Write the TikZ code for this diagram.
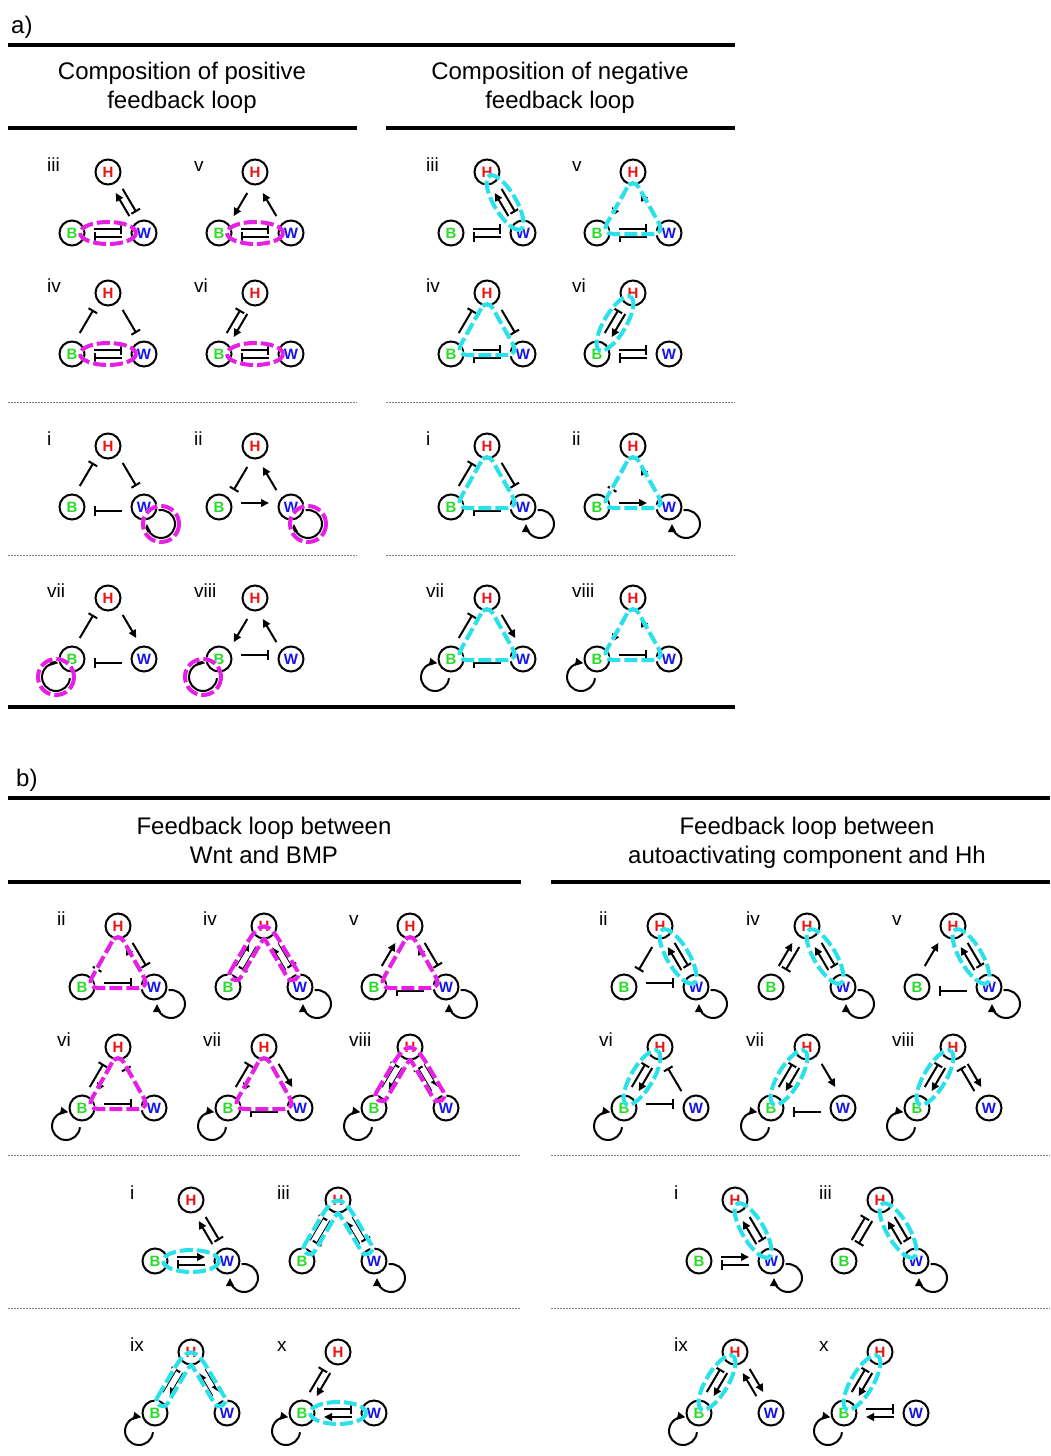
\documentclass[tikz,border=0pt]{standalone}
\usepackage{fontspec}
\setmainfont{Liberation Sans}
\usetikzlibrary{arrows.meta,calc}

\definecolor{hred}{RGB}{235,20,20}
\definecolor{bgreen}{RGB}{40,220,40}
\definecolor{wblue}{RGB}{20,20,235}
\definecolor{hlmag}{RGB}{230,30,230}
\definecolor{hlcyan}{RGB}{40,225,235}

\tikzset{
  nd/.style={circle,draw,line width=2pt,minimum size=25pt,inner sep=0pt,
    font=\fontsize{15}{15}\selectfont\bfseries},
  lbl/.style={anchor=base west,inner sep=0pt,font=\fontsize{19}{23}\selectfont},
  hdr/.style={anchor=base,inner sep=0pt,font=\fontsize{24}{29}\selectfont},
  edgeline/.style={line width=2pt,shorten <=22pt,shorten >=22pt},
  actl/.style={edgeline,-{Triangle[length=8pt,width=7.5pt]}},
  inhl/.style={edgeline,-{Bar[width=10pt]}},
  selfl/.style={line width=2pt,-{Triangle[length=8pt,width=7.5pt]}},
  hl/.style={preaction={draw=white,line width=4pt,solid},
    draw=#1,line width=4pt,dash pattern=on 13pt off 4pt},
  rule/.style={line width=3.2pt},
  dots/.style={line width=1pt,gray,dash pattern=on 1.5pt off 1.5pt},
}

% one three-node motif: prefix, numeral, H position
\newcommand\motif[4]{%
  \node[lbl] (#1n) at (#3-61,#4-1) {#2};
  \node[nd,text=hred] (#1H) at (#3,#4) {H};
  \node[nd,text=bgreen] (#1B) at (#3-36,#4+61) {B};
  \node[nd,text=wblue] (#1W) at (#3+36,#4+61) {W};
}
% edges run on the left-hand side of their direction
\newcommand\actE[3]{\draw[actl] ($(#1#2)!4pt!90:(#1#3)$) -- ($(#1#3)!4pt!-90:(#1#2)$);}
\newcommand\inhE[3]{\draw[inhl] ($(#1#2)!4pt!90:(#1#3)$) -- ($(#1#3)!4pt!-90:(#1#2)$);}
% self activation loops
\newcommand\wloop[1]{\draw[selfl] ($(#1W)+(17,17)+(-100:14)$) arc[start angle=-100,end angle=180,radius=14];}
\newcommand\bloop[1]{\draw[selfl] ($(#1B)+(-16,18)+(5:14)$) arc[start angle=5,end angle=280,radius=14];}
% dashed outlines marking a loop
\newcommand\hlwloop[2]{\draw[hl=#2] ($(#1W)+(17,17)$) circle[radius=18];}
\newcommand\hlbloop[2]{\draw[hl=#2] ($(#1B)+(-16,18)$) circle[radius=18];}
\newcommand\hlbw[2]{\draw[hl=#2] ($(#1B)!0.5!(#1W)$) ellipse[x radius=28,y radius=11];}
\newcommand\hlhw[2]{\coordinate (#1mw) at ($(#1H)!0.5!(#1W)$);
  \draw[hl=#2,rotate around={-59.45:(#1mw)}] (#1mw) ellipse[x radius=31,y radius=11];}
\newcommand\hlhb[2]{\coordinate (#1mb) at ($(#1H)!0.5!(#1B)$);
  \draw[hl=#2,rotate around={59.45:(#1mb)}] (#1mb) ellipse[x radius=31,y radius=11];}
\newcommand\hltri[2]{\draw[hl=#2,rounded corners=12pt] ($(#1H)+(0,5)$) -- ($(#1B)+(4,1)$) -- ($(#1W)+(-4,1)$) -- cycle;}
\newcommand\hllam[2]{\draw[hl=#2] ($(#1H)+(-33.6,45.2)$) -- ($(#1H)+(-17.9,18.5)$)
  .. controls ($(#1H)+(-3.7,-5.6)$) and ($(#1H)+(3.7,-5.6)$) .. ($(#1H)+(17.9,18.5)$)
  -- ($(#1H)+(33.6,45.2)$)
  .. controls ($(#1H)+(37.7,52.1)$) and ($(#1H)+(27.4,58.2)$) .. ($(#1H)+(23.3,51.3)$)
  -- ($(#1H)+(2.96,16.8)$)
  .. controls ($(#1H)+(0,11.8)$) .. ($(#1H)+(-2.96,16.8)$)
  -- ($(#1H)+(-23.3,51.3)$)
  .. controls ($(#1H)+(-27.4,58.2)$) and ($(#1H)+(-37.7,52.1)$) .. ($(#1H)+(-33.6,45.2)$) -- cycle;}

\begin{document}
\begin{tikzpicture}[x=1pt,y=-1pt]
\useasboundingbox (0,0) rectangle (1051,1456);

% ---------------- part a ----------------
\node[anchor=base west,inner sep=0pt,font=\fontsize{24}{29}\selectfont] (alab) at (11,33) {a)};
\draw[rule] (8,45) -- (735,45);
\node[hdr] (apt1) at (182,79.5) {Composition of positive};
\node[hdr] (apt2) at (182,108.5) {feedback loop};
\node[hdr] (ant1) at (560,79.5) {Composition of negative};
\node[hdr] (ant2) at (560,108.5) {feedback loop};
\draw[rule] (8,128) -- (357,128);
\draw[rule] (386,128) -- (735,128);
\draw[dots] (8,402) -- (357,402);
\draw[dots] (386,402) -- (735,402);
\draw[dots] (8,555) -- (357,555);
\draw[dots] (386,555) -- (735,555);
\draw[rule] (8,707) -- (735,707);

% positive feedback compositions
\motif{ap3}{iii}{108}{172}
\inhE{ap3}{B}{W}\inhE{ap3}{W}{B}\actE{ap3}{W}{H}\inhE{ap3}{H}{W}
\motif{ap5}{v}{255}{172}
\actE{ap5}{H}{B}\actE{ap5}{W}{H}\inhE{ap5}{B}{W}\inhE{ap5}{W}{B}
\motif{ap4}{iv}{108}{293}
\inhE{ap4}{B}{H}\inhE{ap4}{H}{W}\inhE{ap4}{B}{W}\inhE{ap4}{W}{B}
\motif{ap6}{vi}{255}{293}
\inhE{ap6}{B}{H}\actE{ap6}{H}{B}\inhE{ap6}{B}{W}\inhE{ap6}{W}{B}
\motif{ap1}{i}{108}{446}
\inhE{ap1}{B}{H}\inhE{ap1}{H}{W}\inhE{ap1}{W}{B}\wloop{ap1}
\motif{ap2}{ii}{255}{446}
\inhE{ap2}{H}{B}\actE{ap2}{B}{W}\actE{ap2}{W}{H}\wloop{ap2}
\motif{ap7}{vii}{108}{598}
\inhE{ap7}{B}{H}\actE{ap7}{H}{W}\inhE{ap7}{W}{B}\bloop{ap7}
\motif{ap8}{viii}{255}{598}
\actE{ap8}{H}{B}\inhE{ap8}{B}{W}\actE{ap8}{W}{H}\bloop{ap8}

\hlbw{ap3}{hlmag}\hlbw{ap5}{hlmag}\hlbw{ap4}{hlmag}\hlbw{ap6}{hlmag}
\hlwloop{ap1}{hlmag}\hlwloop{ap2}{hlmag}\hlbloop{ap7}{hlmag}\hlbloop{ap8}{hlmag}

% negative feedback compositions
\motif{an3}{iii}{487}{172}
\actE{an3}{W}{H}\inhE{an3}{H}{W}\inhE{an3}{B}{W}\inhE{an3}{W}{B}
\motif{an5}{v}{633}{172}
\actE{an5}{H}{B}\actE{an5}{W}{H}\inhE{an5}{B}{W}\inhE{an5}{W}{B}
\motif{an4}{iv}{487}{293}
\inhE{an4}{B}{H}\inhE{an4}{H}{W}\inhE{an4}{B}{W}\inhE{an4}{W}{B}
\motif{an6}{vi}{633}{293}
\inhE{an6}{B}{H}\actE{an6}{H}{B}\inhE{an6}{B}{W}\inhE{an6}{W}{B}
\motif{an1}{i}{487}{446}
\inhE{an1}{B}{H}\inhE{an1}{H}{W}\inhE{an1}{W}{B}\wloop{an1}
\motif{an2}{ii}{633}{446}
\inhE{an2}{H}{B}\actE{an2}{B}{W}\actE{an2}{W}{H}\wloop{an2}
\motif{an7}{vii}{487}{598}
\inhE{an7}{B}{H}\actE{an7}{H}{W}\inhE{an7}{W}{B}\bloop{an7}
\motif{an8}{viii}{633}{598}
\actE{an8}{H}{B}\inhE{an8}{B}{W}\actE{an8}{W}{H}\bloop{an8}

\hlhw{an3}{hlcyan}\hltri{an5}{hlcyan}\hltri{an4}{hlcyan}\hlhb{an6}{hlcyan}
\hltri{an1}{hlcyan}\hltri{an2}{hlcyan}\hltri{an7}{hlcyan}\hltri{an8}{hlcyan}

% ---------------- part b ----------------
\node[anchor=base west,inner sep=0pt,font=\fontsize{24}{29}\selectfont] (blab) at (16,786) {b)};
\draw[rule] (8,798) -- (1050,798);
\node[hdr] (blt1) at (264,834.5) {Feedback loop between};
\node[hdr] (blt2) at (264,863.5) {Wnt and BMP};
\node[hdr] (brt1) at (807,834.5) {Feedback loop between};
\node[hdr] (brt2) at (807,863.5) {autoactivating component and Hh};
\draw[rule] (8,882) -- (521,882);
\draw[rule] (551,882) -- (1050,882);
\draw[dots] (8,1155) -- (521,1155);
\draw[dots] (551,1155) -- (1050,1155);
\draw[dots] (8,1308) -- (521,1308);
\draw[dots] (551,1308) -- (1050,1308);

% loops between Wnt and BMP
\motif{bl2}{ii}{118}{926}
\inhE{bl2}{H}{B}\actE{bl2}{W}{H}\inhE{bl2}{H}{W}\inhE{bl2}{B}{W}\wloop{bl2}
\motif{bl4}{iv}{264}{926}
\actE{bl4}{B}{H}\inhE{bl4}{H}{B}\actE{bl4}{W}{H}\inhE{bl4}{H}{W}\wloop{bl4}
\motif{bl5}{v}{410}{926}
\actE{bl5}{B}{H}\actE{bl5}{W}{H}\inhE{bl5}{H}{W}\inhE{bl5}{W}{B}\wloop{bl5}
\motif{bl6}{vi}{118}{1047}
\inhE{bl6}{B}{H}\actE{bl6}{H}{B}\inhE{bl6}{W}{H}\inhE{bl6}{B}{W}\bloop{bl6}
\motif{bl7}{vii}{264}{1047}
\inhE{bl7}{B}{H}\actE{bl7}{H}{B}\actE{bl7}{H}{W}\inhE{bl7}{W}{B}\bloop{bl7}
\motif{bl8}{viii}{410}{1047}
\inhE{bl8}{B}{H}\actE{bl8}{H}{B}\inhE{bl8}{W}{H}\actE{bl8}{H}{W}\bloop{bl8}
\motif{bl1}{i}{191}{1200}
\actE{bl1}{B}{W}\inhE{bl1}{W}{B}\actE{bl1}{W}{H}\inhE{bl1}{H}{W}\wloop{bl1}
\motif{bl3}{iii}{338}{1200}
\inhE{bl3}{B}{H}\inhE{bl3}{H}{B}\actE{bl3}{W}{H}\inhE{bl3}{H}{W}\wloop{bl3}
\motif{bl9}{ix}{191}{1352}
\inhE{bl9}{B}{H}\actE{bl9}{H}{B}\actE{bl9}{W}{H}\actE{bl9}{H}{W}\bloop{bl9}
\motif{bl10}{x}{338}{1352}
\inhE{bl10}{B}{H}\actE{bl10}{H}{B}\inhE{bl10}{B}{W}\actE{bl10}{W}{B}\bloop{bl10}

\hltri{bl2}{hlmag}\hllam{bl4}{hlmag}\hltri{bl5}{hlmag}
\hltri{bl6}{hlmag}\hltri{bl7}{hlmag}\hllam{bl8}{hlmag}
\hlbw{bl1}{hlcyan}\hllam{bl3}{hlcyan}\hllam{bl9}{hlcyan}\hlbw{bl10}{hlcyan}

% loops between the autoactivating component and Hh
\motif{br2}{ii}{660}{926}
\inhE{br2}{H}{B}\actE{br2}{W}{H}\inhE{br2}{H}{W}\inhE{br2}{B}{W}\wloop{br2}
\motif{br4}{iv}{807}{926}
\actE{br4}{B}{H}\inhE{br4}{H}{B}\actE{br4}{W}{H}\inhE{br4}{H}{W}\wloop{br4}
\motif{br5}{v}{953}{926}
\actE{br5}{B}{H}\actE{br5}{W}{H}\inhE{br5}{H}{W}\inhE{br5}{W}{B}\wloop{br5}
\motif{br6}{vi}{660}{1047}
\inhE{br6}{B}{H}\actE{br6}{H}{B}\inhE{br6}{W}{H}\inhE{br6}{B}{W}\bloop{br6}
\motif{br7}{vii}{807}{1047}
\inhE{br7}{B}{H}\actE{br7}{H}{B}\actE{br7}{H}{W}\inhE{br7}{W}{B}\bloop{br7}
\motif{br8}{viii}{953}{1047}
\inhE{br8}{B}{H}\actE{br8}{H}{B}\inhE{br8}{W}{H}\actE{br8}{H}{W}\bloop{br8}
\motif{br1}{i}{735}{1200}
\actE{br1}{B}{W}\inhE{br1}{W}{B}\actE{br1}{W}{H}\inhE{br1}{H}{W}\wloop{br1}
\motif{br3}{iii}{880}{1200}
\inhE{br3}{B}{H}\inhE{br3}{H}{B}\actE{br3}{W}{H}\inhE{br3}{H}{W}\wloop{br3}
\motif{br9}{ix}{735}{1352}
\inhE{br9}{B}{H}\actE{br9}{H}{B}\actE{br9}{W}{H}\actE{br9}{H}{W}\bloop{br9}
\motif{br10}{x}{880}{1352}
\inhE{br10}{B}{H}\actE{br10}{H}{B}\inhE{br10}{B}{W}\actE{br10}{W}{B}\bloop{br10}

\hlhw{br2}{hlcyan}\hlhw{br4}{hlcyan}\hlhw{br5}{hlcyan}
\hlhb{br6}{hlcyan}\hlhb{br7}{hlcyan}\hlhb{br8}{hlcyan}
\hlhw{br1}{hlcyan}\hlhw{br3}{hlcyan}\hlhb{br9}{hlcyan}\hlhb{br10}{hlcyan}
\end{tikzpicture}
\end{document}
